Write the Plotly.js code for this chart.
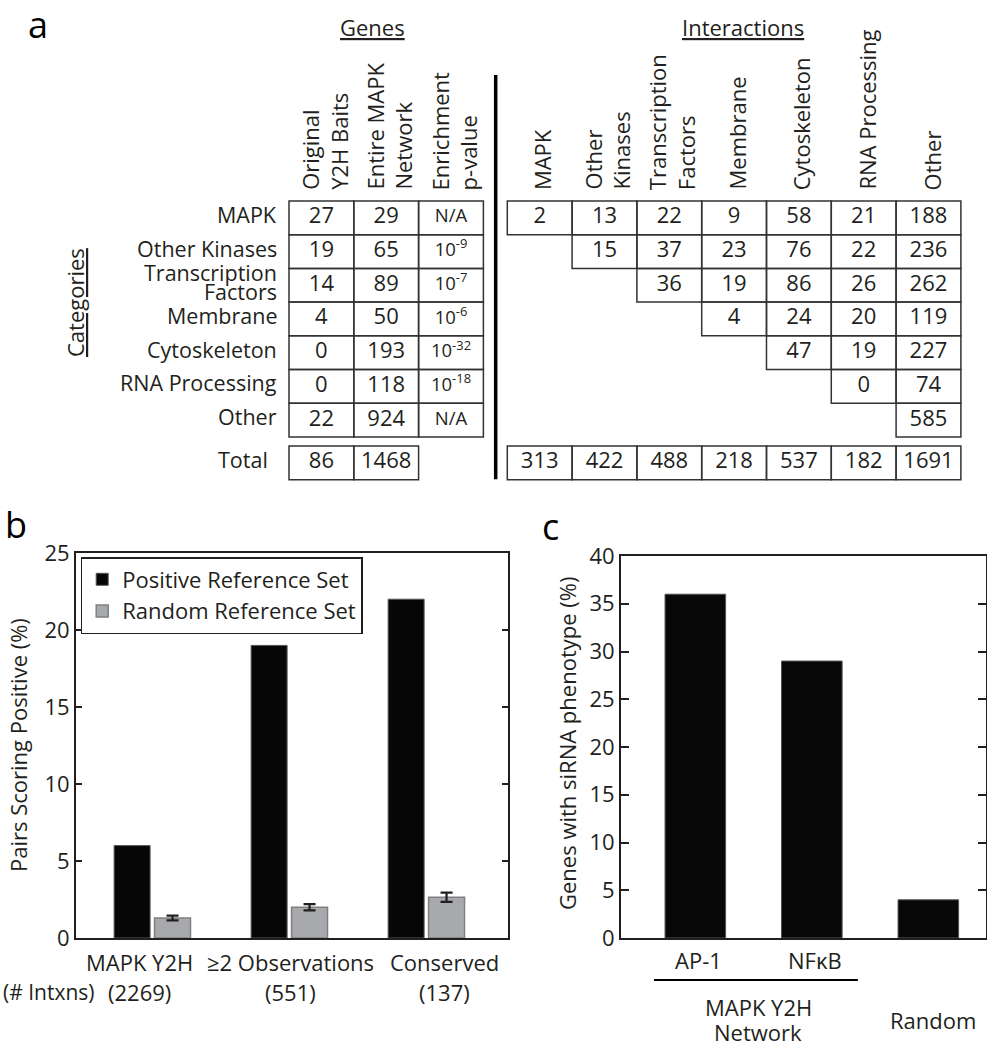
<!DOCTYPE html>
<html><head><meta charset="utf-8">
<script src="https://cdn.plot.ly/plotly-3.0.1.min.js"></script>
<style>html,body{margin:0;padding:0;background:#fff}</style>
</head><body><div id="chart" style="width:987px;height:1050px"></div>
<script>
// ---------------- DATA ----------------
const categories = ['MAPK','Other Kinases','Transcription<br>Factors','Membrane','Cytoskeleton','RNA Processing','Other'];
const geneHeaders = ['Original<br>Y2H Baits','Entire MAPK<br>Network','Enrichment<br>p-value'];
const interactionHeaders = ['MAPK','Other<br>Kinases','Transcription<br>Factors','Membrane','Cytoskeleton','RNA Processing','Other'];
const originalBaits = [27,19,14,4,0,0,22];
const entireNetwork = [29,65,89,50,193,118,924];
const enrichmentP = ['N/A','10<sup>-9</sup>','10<sup>-7</sup>','10<sup>-6</sup>','10<sup>-32</sup>','10<sup>-18</sup>','N/A'];
const geneTotals = [86,1468];
const interactionRows = [
  [2,13,22,9,58,21,188],
  [15,37,23,76,22,236],
  [36,19,86,26,262],
  [4,24,20,119],
  [47,19,227],
  [0,74],
  [585]
];
const interactionTotals = [313,422,488,218,537,182,1691];

const validationGroups = ['MAPK Y2H','≥2 Observations','Conserved'];
const validationCounts = ['(2269)','(551)','(137)'];
const positiveRef = [6,19,22];
const randomRef = [1.3,2.0,2.65];
const randomErr = [0.15,0.2,0.3];

const sirnaGroups = ['AP-1','NFκB','Random'];
const sirnaPct = [36,29,4];

// ---------------- LAYOUT HELPERS ----------------
const W = 987, H = 1050;
const px = v => v / W, py = v => 1 - v / H;
const FONT = 'Open Sans, sans-serif';
const INK = '#231f20';
const GRID = '#333333';
const FS = 22;          // base text size
const IX0 = 3.369;      // interactions table column offset (in cell units)
const TOT = 7.27;       // totals row offset (in row units)

const traces = [];
const shapes = [];
const annotations = [];

// ---- Panel a: cell values ----
function textTrace(xs, ys, texts, size) {
  traces.push({type:'scatter', mode:'text', xaxis:'x3', yaxis:'y3', x:xs, y:ys, text:texts,
    textposition:'middle center', textfont:{family:FONT, size:size, color:INK},
    showlegend:false, hoverinfo:'skip', cliponaxis:false});
}
function cellRect(x0, y0) {
  shapes.push({type:'rect', xref:'x3', yref:'y3', x0:x0, x1:x0 + 1, y0:y0, y1:y0 + 1,
    line:{color:GRID, width:1.5}, fillcolor:'rgba(0,0,0,0)'});
}
textTrace(originalBaits.map(() => 0.5), originalBaits.map((_, i) => i + 0.5), originalBaits.map(String), FS);
textTrace(entireNetwork.map(() => 1.5), entireNetwork.map((_, i) => i + 0.5), entireNetwork.map(String), FS);
textTrace(enrichmentP.map(() => 2.5), enrichmentP.map((_, i) => i + 0.5), enrichmentP, 18.5);
textTrace(geneTotals.map((_, j) => j + 0.5), geneTotals.map(() => TOT + 0.5), geneTotals.map(String), FS);

const ix = [], iy = [], it = [];
interactionRows.forEach((row, i) => row.forEach((v, k) => {
  const j = i + k;
  ix.push(IX0 + j + 0.5); iy.push(i + 0.5); it.push(String(v));
  cellRect(IX0 + j, i);
}));
textTrace(ix, iy, it, FS);
textTrace(interactionTotals.map((_, j) => IX0 + j + 0.5), interactionTotals.map(() => TOT + 0.5), interactionTotals.map(String), FS);

// gene grid + row labels
categories.forEach((c, i) => {
  for (let j = 0; j < geneHeaders.length; j++) cellRect(j, i);
  const lines = c.split('<br>');
  const n = lines.length, LS = 19;
  lines.forEach((ln, k) => annotations.push({xref:'x3', yref:'y3', x:-0.16, y:i + 0.5, xanchor:'right', yanchor:'middle',
    yshift:3.5 + (n - 1) / 2 * LS - k * LS, text:ln, showarrow:false, font:{family:FONT, size:21.5, color:INK}}));
});
geneTotals.forEach((_, j) => cellRect(j, TOT));
interactionTotals.forEach((_, j) => cellRect(IX0 + j, TOT));
annotations.push({xref:'x3', yref:'y3', x:-0.29, y:TOT + 0.5, xanchor:'right', yanchor:'middle', yshift:3,
  text:'Total', showarrow:false, font:{family:FONT, size:21.5, color:INK}});

// separator
shapes.push({type:'line', xref:'x3', yref:'y3', x0:3.19, x1:3.19, y0:-3.74, y1:TOT + 0.99,
  line:{color:'#000', width:3.5}});

// headers
geneHeaders.forEach((h, j) => annotations.push({xref:'x3', yref:'y3', x:j + 0.5, y:-0.27, xanchor:'center', yanchor:'bottom',
  xshift:3, textangle:-90, align:'left', text:h, showarrow:false, font:{family:FONT, size:FS, color:INK}}));
interactionHeaders.forEach((h, j) => annotations.push({xref:'x3', yref:'y3', x:IX0 + j + 0.5, y:-0.27, xanchor:'center', yanchor:'bottom',
  xshift:3, textangle:-90, align:'left', text:h, showarrow:false, font:{family:FONT, size:FS, color:INK}}));

annotations.push({xref:'paper', yref:'paper', x:px(372), y:py(27), xanchor:'center', yanchor:'middle',
  text:'<u>Genes</u>', showarrow:false, font:{family:FONT, size:FS, color:INK}});
annotations.push({xref:'paper', yref:'paper', x:px(743), y:py(27), xanchor:'center', yanchor:'middle',
  text:'<u>Interactions</u>', showarrow:false, font:{family:FONT, size:FS, color:INK}});
annotations.push({xref:'paper', yref:'paper', x:px(75), y:py(303), xanchor:'center', yanchor:'middle', textangle:-90,
  text:'<u>Categories</u>', showarrow:false, font:{family:FONT, size:FS, color:INK}});

// panel letters
[['a',38,24],['b',16,524],['c',550,526]].forEach(([t, x, y]) => annotations.push({xref:'paper', yref:'paper', x:px(x), y:py(y),
  xanchor:'center', yanchor:'middle', text:t, showarrow:false, font:{family:FONT, size:36, color:'#000'}}));

// ---- Panel b ----
traces.push({type:'bar', name:'Positive Reference Set', x:[1,2,3], y:positiveRef, xaxis:'x', yaxis:'y',
  marker:{color:'#060606', line:{color:'#555', width:1}}});
traces.push({type:'bar', name:'Random Reference Set', x:[1,2,3], y:randomRef, xaxis:'x', yaxis:'y',
  marker:{color:'#a7a9ac', line:{color:'#808080', width:1.5}},
  error_y:{type:'data', array:randomErr, visible:true, color:INK, thickness:2.2, width:6}});

const bShift = [-13, 1, 18];
validationGroups.forEach((g, i) => {
  annotations.push({xref:'x', yref:'paper', x:i + 1, xshift:bShift[i], y:py(962), xanchor:'center', yanchor:'middle',
    text:g, showarrow:false, font:{family:FONT, size:FS, color:INK}});
  annotations.push({xref:'x', yref:'paper', x:i + 1, xshift:bShift[i], y:py(992), xanchor:'center', yanchor:'middle',
    text:validationCounts[i], showarrow:false, font:{family:FONT, size:FS, color:INK}});
});
annotations.push({xref:'paper', yref:'paper', x:0, xshift:1, y:py(992), xanchor:'left', yanchor:'middle',
  text:'(# Intxns)', showarrow:false, font:{family:FONT, size:21, color:INK}});
annotations.push({xref:'paper', yref:'paper', x:px(18), y:py(745), xanchor:'center', yanchor:'middle', textangle:-90,
  text:'Pairs Scoring Positive (%)', showarrow:false, font:{family:FONT, size:FS, color:INK}});

// ---- Panel c ----
traces.push({type:'bar', name:'siRNA', x:sirnaGroups, y:sirnaPct, xaxis:'x2', yaxis:'y2', showlegend:false,
  width:0.52, marker:{color:'#080808', line:{color:'#555', width:1}}});
['AP-1','NFκB'].forEach(g => annotations.push({xref:'x2', yref:'paper', x:g, xshift:3, y:py(960), xanchor:'center', yanchor:'middle',
  text:g, showarrow:false, font:{family:FONT, size:FS, color:INK}}));
annotations.push({xref:'x2', yref:'paper', x:'Random', xshift:5, y:py(1020), xanchor:'center', yanchor:'middle',
  text:'Random', showarrow:false, font:{family:FONT, size:FS, color:INK}});
annotations.push({xref:'x2', yref:'paper', x:0.54, y:py(1007), xanchor:'center', yanchor:'middle',
  text:'MAPK Y2H', showarrow:false, font:{family:FONT, size:FS, color:INK}});
annotations.push({xref:'x2', yref:'paper', x:0.54, y:0, yshift:1, xanchor:'center', yanchor:'bottom',
  text:'Network', showarrow:false, font:{family:FONT, size:FS, color:INK}});
shapes.push({type:'line', xref:'x2', yref:'paper', x0:-0.355, x1:1.395, y0:py(980), y1:py(980), line:{color:'#000', width:2.2}});
annotations.push({xref:'paper', yref:'paper', x:px(567), y:py(744), xanchor:'center', yanchor:'middle', textangle:-90,
  text:'Genes with siRNA phenotype (%)', showarrow:false, font:{family:FONT, size:FS, color:INK}});

const axisCommon = {showline:true, linecolor:INK, linewidth:2, zeroline:false, showgrid:false,
  tickfont:{family:FONT, size:FS, color:INK}};

const layout = {
  width:W, height:H, autosize:false,
  margin:{l:0, r:0, t:0, b:0},
  paper_bgcolor:'#fff', plot_bgcolor:'rgba(0,0,0,0)',
  font:{family:FONT, color:INK},
  barmode:'group', bargap:0.41, bargroupgap:0.11,
  showlegend:true,
  legend:{x:px(80.7), y:py(557), xanchor:'left', yanchor:'top', bgcolor:'#fff', bordercolor:INK, borderwidth:1.5,
    font:{family:FONT, size:FS, color:INK}, tracegroupgap:0, itemwidth:30},
  xaxis:Object.assign({}, axisCommon, {domain:[px(76), px(508)], range:[0.443, 3.596], mirror:true,
    ticks:'', showticklabels:false, anchor:'y'}),
  yaxis:Object.assign({}, axisCommon, {domain:[py(938), py(553)], range:[0, 25], dtick:5, mirror:'ticks',
    ticks:'inside', ticklen:6, tickwidth:2, tickcolor:INK, anchor:'x'}),
  xaxis2:Object.assign({}, axisCommon, {domain:[px(621), px(986)], range:[-0.638, 2.495], mirror:true,
    ticks:'', showticklabels:false, anchor:'y2', type:'category'}),
  yaxis2:Object.assign({}, axisCommon, {domain:[py(938), py(556)], range:[0, 40], dtick:5, mirror:'ticks',
    ticks:'inside', ticklen:8, tickwidth:2, tickcolor:INK, anchor:'x2'}),
  xaxis3:{domain:[0, 1], range:[-4.460, 10.772], visible:false, fixedrange:true, anchor:'y3'},
  yaxis3:{domain:[py(500), 1], range:[8.872, -5.964], visible:false, fixedrange:true, anchor:'x3'},
  shapes:shapes,
  annotations:annotations
};

Plotly.newPlot('chart', traces, layout, {staticPlot:true, displayModeBar:false});
</script>
</body></html>
